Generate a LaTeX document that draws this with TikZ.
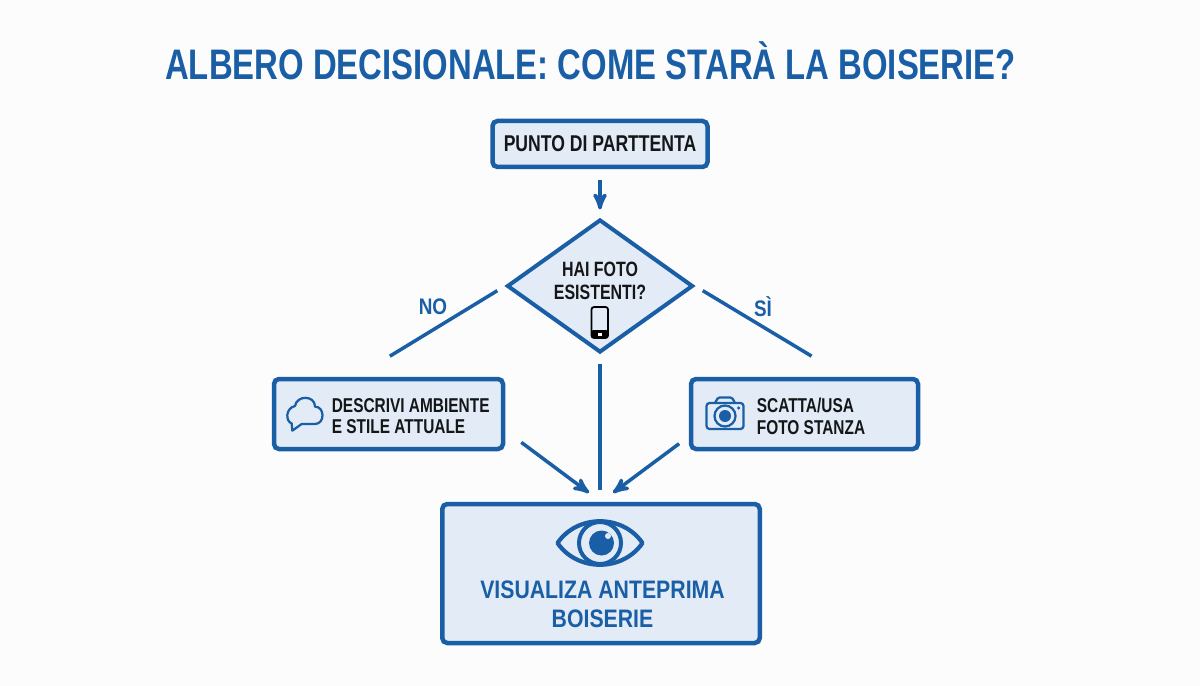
\documentclass[tikz,border=0pt]{standalone}
\usepackage{fontspec}
\setmainfont{Liberation Sans}
\newfontfamily\condfont[FakeStretch=0.77]{Liberation Sans Bold}
\newfontfamily\widefont[FakeStretch=0.84]{Liberation Sans Bold}
\usetikzlibrary{positioning,arrows,shapes.geometric}
\definecolor{deepblue}{HTML}{1A5FA6}
\definecolor{paleblue}{HTML}{E3ECF6}
\definecolor{inktext}{HTML}{141618}

\begin{document}
\begin{tikzpicture}[>=stealth',node distance=1cm,on grid,
		block/.style={rectangle,draw=deepblue,fill=paleblue,line width=0.09cm,rounded corners=0.1cm},
		query/.style={diamond,draw=deepblue,fill=paleblue,line width=0.08cm,minimum width=3.72cm,minimum height=2.66cm,inner sep=0pt},
		link/.style={draw=deepblue,line width=0.07cm},
		icon/.style={draw=deepblue,line width=0.045cm,line join=round},
		boxtext/.style={font=\condfont\fontsize{11.4}{12.4}\selectfont,text=inktext,align=left,inner sep=0pt},
		bluetext/.style={font=\widefont,text=deepblue,inner sep=0pt}]
\useasboundingbox (0,0) rectangle (24,-13.72);
\fill[white!99!black] (0,0) rectangle (24,-13.72);

\node [bluetext,font=\condfont\fontsize{24.3}{28}\selectfont,anchor=base] (title) at (11.81,-1.6) {ALBERO DECISIONALE: COME STARÀ LA BOISERIE?};

\node [block,minimum width=4.3cm,minimum height=0.92cm,font=\condfont\fontsize{13}{15}\selectfont,text=inktext] (start) at (12,-2.88) {PUNTO DI PARTTENTA};
\node [query] (dec) [below=2.84cm of start] {};
\node [block,minimum width=4.58cm,minimum height=1.4cm] (descr) [below=2.56cm of dec,xshift=-4.23cm] {};
\node [block,minimum width=4.54cm,minimum height=1.4cm] (scatta) [below=2.56cm of dec,xshift=4.09cm] {};
\node [block,minimum width=6.35cm,minimum height=2.78cm] (final) [below=5.75cm of dec,xshift=0.02cm] {};

% texts inside the boxes
\node [boxtext,font=\condfont\fontsize{11.8}{13}\selectfont,align=center] (dectext) [above=0.1cm of dec] {HAI FOTO\\ESISTENTI?};
\node [boxtext,anchor=west] (descrlabel) at (6.63,-8.32) {DESCRIVI AMBIENTE\\E STILE ATTUALE};
\node [boxtext,anchor=west] (scattalabel) at (15.13,-8.32) {SCATTA/USA\\FOTO STANZA};
\node [bluetext,font=\widefont\fontsize{14.4}{16.2}\selectfont,align=center] (finaltext) at (12.05,-12.09) {VISUALIZA ANTEPRIMA\\BOISERIE};

\node [bluetext,font=\widefont\fontsize{12.8}{14}\selectfont] (no) at (8.66,-6.14) {NO};
\node [bluetext,font=\widefont\fontsize{12.8}{14}\selectfont] (si) at (15.26,-6.14) {SÌ};

% connectors
\draw [link,->,shorten >=0.16cm,shorten <=0.22cm] (start) -- (dec);
\draw [link,shorten <=0.18cm,shorten >=0.79cm] (dec.west) -- (descr.131.6);
\draw [link,shorten <=0.18cm,shorten >=0.8cm] (dec.east) -- (scatta.42.7);
\draw [link,shorten <=0.18cm,shorten >=0.24cm] (dec.south) -- (dec.south |- final.north);
\draw [link,->,shorten <=0.4cm,shorten >=0.3cm] (descr.-8.7) -- (final.north);
\draw [link,->,shorten <=0.24cm,shorten >=0.3cm] (scatta.191.9) -- (final.north);

% phone
\begin{scope}[shift={(11.99,-6.14)}]
  \draw [black,fill=paleblue,line width=0.035cm,rounded corners=0.05cm] (-0.16,0) rectangle (0.17,-0.62);
  \fill [black,rounded corners=0.04cm] (-0.16,-0.46) rectangle (0.17,-0.62);
  \fill [white] (-0.03,-0.52) rectangle (0.04,-0.57);
\end{scope}

% cloud
\begin{scope}[shift={(6.08,-8.3)}]
  \draw [icon,fill=paleblue] (-0.233,-0.313) -- (-0.247,-0.167)
     .. controls (-0.367,-0.133) and (-0.38,0.133) .. (-0.18,0.18)
     .. controls (-0.147,0.4) and (0.22,0.4) .. (0.22,0.167)
     .. controls (0.42,0.167) and (0.42,-0.18) .. (0.22,-0.18)
     -- (-0.047,-0.18) -- cycle;
\end{scope}

% camera
\begin{scope}[shift={(14.5,-8.28)}]
  \draw [icon,rounded corners=0.06cm] (-0.37,-0.3) rectangle (0.37,0.22);
  \draw [icon,rounded corners=0.03cm] (-0.2,0.22) -- (-0.14,0.33) -- (0.14,0.33) -- (0.2,0.22);
  \draw [icon] (0,-0.04) circle (0.21);
  \fill [deepblue] (0,-0.04) circle (0.12);
  \fill [deepblue] (0.27,0.12) circle (0.035);
\end{scope}

% eye
\begin{scope}[shift={(12,-10.86)}]
  \draw [deepblue,line width=0.085cm,line join=round] (-0.85,0) .. controls (-0.45,0.58) and (0.45,0.58) .. (0.85,0)
     .. controls (0.45,-0.58) and (-0.45,-0.58) .. cycle;
  \draw [deepblue,line width=0.08cm] (0,0) circle (0.42);
  \fill [deepblue] (0.03,0) circle (0.25);
  \fill [paleblue] (0.16,0.14) circle (0.06);
\end{scope}
\end{tikzpicture}
\end{document}
